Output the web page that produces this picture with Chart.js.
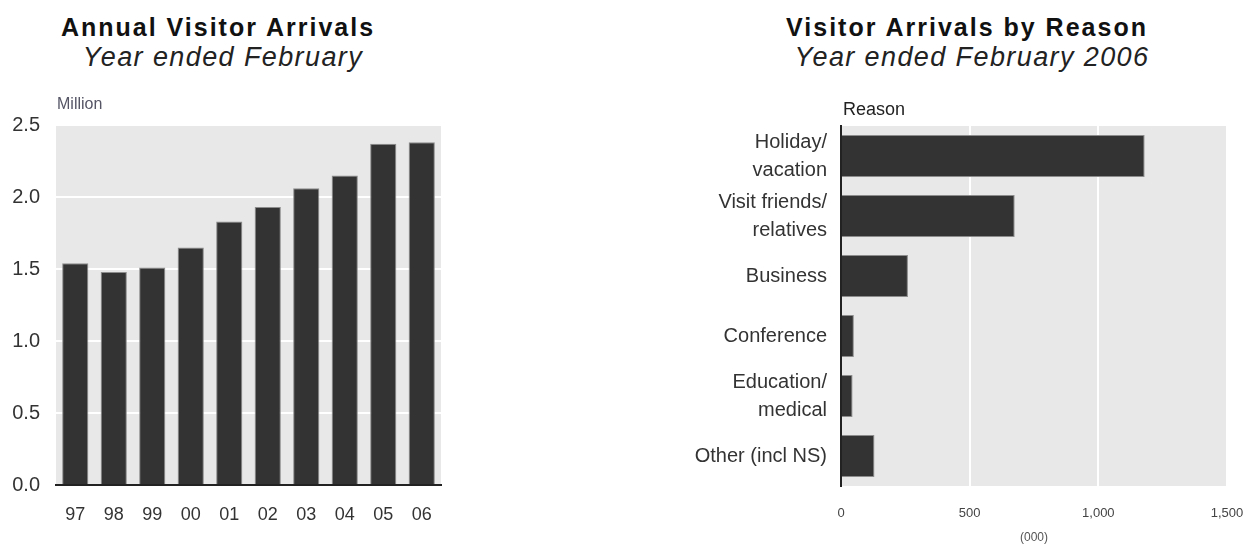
<!DOCTYPE html>
<html>
<head>
<meta charset="utf-8">
<script src="https://cdn.jsdelivr.net/npm/chart.js@4.4.1/dist/chart.umd.min.js"></script>
<style>
  body { margin: 0; width: 1257px; height: 545px; background: #fff; position: relative; overflow: hidden; }
  .titulo { position: absolute; white-space: nowrap; transform: translateX(-50%); line-height: 1; color: #111;
            font-family: "Liberation Sans", Arial, sans-serif; }
  .principal { font-weight: bold; font-size: 25px; letter-spacing: 2px; }
  .sub { font-style: italic; font-size: 27px; letter-spacing: 1.4px; color: #222; }
  canvas { position: absolute; }
</style>
</head>
<body>
<div class="titulo principal" style="left:218px; top:15px;">Annual Visitor Arrivals</div>
<div class="titulo sub" style="left:223px; top:44px;">Year ended February</div>
<div class="titulo principal" style="left:967px; top:15px;">Visitor Arrivals by Reason</div>
<div class="titulo sub" style="left:972px; top:44px;">Year ended February 2006</div>

<canvas id="graficoAnual" width="460" height="460" style="left:0; top:85px;"></canvas>
<canvas id="graficoMotivo" width="597" height="459" style="left:660px; top:86px;"></canvas>

<script>
// Dados do gráfico anual (milhões)
const anos = ['97', '98', '99', '00', '01', '02', '03', '04', '05', '06'];
const chegadas = [1.54, 1.48, 1.51, 1.65, 1.83, 1.93, 2.06, 2.15, 2.37, 2.38];

// Dados por motivo (milhares)
const motivos = [['Holiday/', 'vacation'], ['Visit friends/', 'relatives'], 'Business', 'Conference', ['Education/', 'medical'], 'Other (incl NS)'];
const chegadasMotivo = [1180, 675, 260, 50, 45, 130];

const fonte = '"Liberation Sans", Arial, sans-serif';
const corBarra = '#333333';
const corFundo = '#e8e8e8';

// Fundo cinza da área do gráfico
const fundoArea = {
    id: 'fundoArea',
    beforeDraw(chart) {
        const a = chart.chartArea;
        const ctx = chart.ctx;
        ctx.save();
        ctx.fillStyle = corFundo;
        ctx.fillRect(a.left, a.top, a.right - a.left, a.bottom - a.top);
        ctx.restore();
    }
};

// Rótulo acima do eixo ("Million", "Reason")
const rotuloEixo = {
    id: 'rotuloEixo',
    afterDraw(chart, args, opts) {
        if (!opts.text) return;
        const ctx = chart.ctx;
        ctx.save();
        ctx.font = opts.font;
        ctx.fillStyle = opts.color;
        ctx.textAlign = 'left';
        ctx.textBaseline = 'middle';
        ctx.fillText(opts.text, chart.chartArea.left + opts.dx, chart.chartArea.top - opts.dy);
        ctx.restore();
    }
};

// Gráfico anual
new Chart(document.getElementById('graficoAnual'), {
    type: 'bar',
    data: {
        labels: anos,
        datasets: [{
            data: chegadas,
            backgroundColor: corBarra,
            borderColor: '#8c8c8c',
            borderWidth: 1,
            categoryPercentage: 1,
            barPercentage: 0.68
        }]
    },
    options: {
        responsive: false,
        animation: false,
        layout: { padding: { top: 40, right: 19, bottom: 0, left: 0 } },
        plugins: {
            legend: { display: false },
            tooltip: { enabled: false },
            rotuloEixo: { text: 'Million', font: '16px ' + fonte, color: '#555566', dx: 1, dy: 20 }
        },
        scales: {
            x: {
                grid: { display: false, drawTicks: false },
                border: { display: true, color: '#222', width: 2 },
                ticks: { color: '#333', font: { family: fonte, size: 18 }, padding: 19 },
                afterFit(s) { s.height = 60; s.paddingLeft = 0; s.paddingRight = 0; }
            },
            y: {
                min: 0,
                max: 2.5,
                grid: { color: '#ffffff', lineWidth: 2, drawTicks: false },
                border: { display: false },
                ticks: {
                    stepSize: 0.5,
                    color: '#333',
                    font: { family: fonte, size: 20 },
                    padding: 16,
                    callback: v => v.toFixed(1)
                },
                afterFit(s) { s.width = 56; }
            }
        }
    },
    plugins: [fundoArea, rotuloEixo]
});

// Gráfico por motivo
new Chart(document.getElementById('graficoMotivo'), {
    type: 'bar',
    data: {
        labels: motivos,
        datasets: [{
            data: chegadasMotivo,
            backgroundColor: corBarra,
            borderColor: '#8c8c8c',
            borderWidth: 1,
            categoryPercentage: 1,
            barPercentage: 0.7
        }]
    },
    options: {
        indexAxis: 'y',
        responsive: false,
        animation: false,
        layout: { padding: { top: 40, right: 30, bottom: 0, left: 0 } },
        plugins: {
            legend: { display: false },
            tooltip: { enabled: false },
            rotuloEixo: { text: 'Reason', font: '18px ' + fonte, color: '#222', dx: 2, dy: 16 }
        },
        scales: {
            x: {
                min: 0,
                max: 1500,
                grid: { color: '#ffffff', lineWidth: 2, drawTicks: false },
                border: { display: false },
                ticks: {
                    stepSize: 500,
                    color: '#444',
                    font: { family: fonte, size: 13 },
                    padding: 20,
                    callback: v => v.toLocaleString('en-US')
                },
                title: { display: true, text: '(000)', color: '#555', font: { family: fonte, size: 12 }, padding: 0 },
                afterFit(s) { s.height = 59; s.paddingLeft = 0; s.paddingRight = 0; }
            },
            y: {
                grid: { display: false, drawTicks: false },
                border: { display: true, color: '#222', width: 2 },
                ticks: { color: '#333', font: { family: fonte, size: 20, lineHeight: 1.4 }, padding: 14 },
                afterFit(s) { s.width = 181; }
            }
        }
    },
    plugins: [fundoArea, rotuloEixo]
});
</script>
</body>
</html>
